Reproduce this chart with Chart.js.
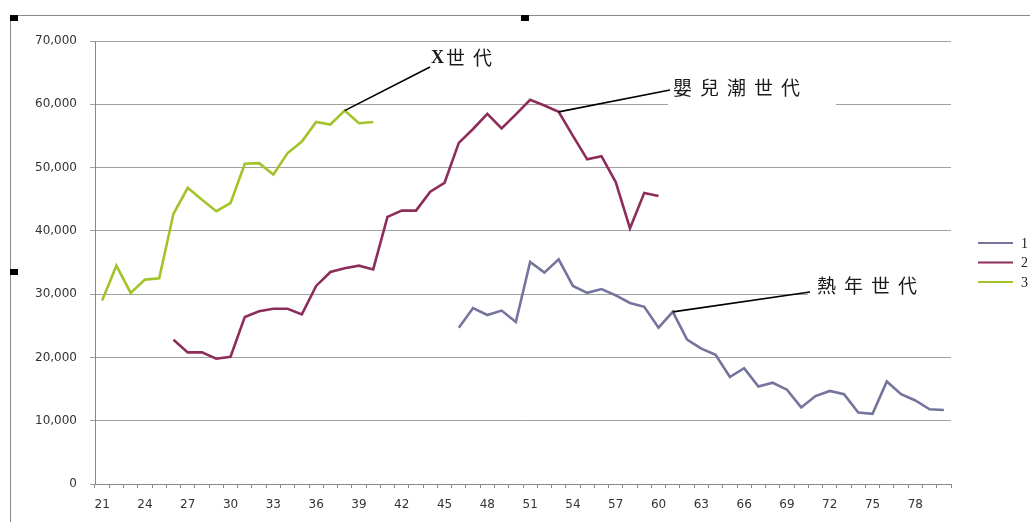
<!DOCTYPE html>
<html>
<head>
<meta charset="utf-8">
<script src="https://cdn.jsdelivr.net/npm/chart.js@4.4.1/dist/chart.umd.min.js"></script>
<style>
  html, body { margin: 0; padding: 0; background: #ffffff; }
  #wrap { width: 1030px; height: 522px; position: relative; }
  canvas { display: block; }
</style>
</head>
<body>
<div id="wrap"><canvas id="chart" width="1030" height="522"></canvas></div>
<script>
// Ages on the category axis (21 .. 80)
const ages = [21, 22, 23, 24, 25, 26, 27, 28, 29, 30,
              31, 32, 33, 34, 35, 36, 37, 38, 39, 40,
              41, 42, 43, 44, 45, 46, 47, 48, 49, 50,
              51, 52, 53, 54, 55, 56, 57, 58, 59, 60,
              61, 62, 63, 64, 65, 66, 67, 68, 69, 70,
              71, 72, 73, 74, 75, 76, 77, 78, 79, 80];

// Series 1: ages 46 .. 80
const series1Start = 46;
const series1 = [24700, 27800, 26700, 27400, 25600, 35100, 33400, 35500, 31300, 30200,
                 30800, 29800, 28600, 28000, 24700, 27200, 22800, 21400, 20400, 16900,
                 18300, 15400, 16000, 14900, 12100, 13900, 14700, 14200, 11300, 11100,
                 16200, 14200, 13200, 11800, 11700];

// Series 2: ages 26 .. 60
const series2Start = 26;
const series2 = [22800, 20800, 20800, 19800, 20100, 26400, 27300, 27700, 27700, 26800,
                 31300, 33500, 34100, 34500, 33900, 42200, 43200, 43200, 46200, 47600,
                 53900, 56100, 58500, 56200, 58400, 60700, 59800, 58800, 55000, 51300,
                 51800, 47700, 40400, 46000, 45500];

// Series 3: ages 21 .. 40
const series3Start = 21;
const series3 = [29000, 34500, 30200, 32300, 32500, 42700, 46800, 44900, 43100, 44400,
                 50600, 50700, 48900, 52300, 54100, 57200, 56800, 59000, 57000, 57200];

const seriesNames = ['1', '2', '3'];
const yTicks = [0, 10000, 20000, 30000, 40000, 50000, 60000, 70000];

// Callout labels, each tied to one point of a series
const callouts = [
  { text: 'X世代',      series: 2, age: 38, textX: 431, textY: 58,  step: [0, 15, 42], lineEnd: [430, 67], box: null },
  { text: '嬰兒潮世代', series: 1, age: 53, textX: 673, textY: 88,  step: 27, lineEnd: [670, 90], box: [668, 74, 168, 32] },
  { text: '熱年世代',   series: 0, age: 61, textX: 817, textY: 286, step: 27, lineEnd: [810, 292], box: [808, 274, 146, 26] }
];

// Place each series on the full age axis
function onAxis(start, values) {
  return ages.map(a => {
    const i = a - start;
    return (i >= 0 && i < values.length) ? values[i] : null;
  });
}

const colors = ['#74749c', '#8d2d5c', '#a2c42a'];

const calloutPlugin = {
  id: 'callouts',
  afterDatasetsDraw(chart) {
    const ctx = chart.ctx;
    const xs = chart.scales.x, ys = chart.scales.y;
    ctx.save();
    callouts.forEach(c => {
      if (c.box) {
        ctx.fillStyle = '#ffffff';
        ctx.fillRect(c.box[0], c.box[1], c.box[2], c.box[3]);
      }
      const data = chart.data.datasets[c.series].data;
      const idx = ages.indexOf(c.age);
      const px = xs.getPixelForValue(idx);
      const py = ys.getPixelForValue(data[idx]);
      ctx.strokeStyle = '#000000';
      ctx.lineWidth = 1.6;
      ctx.beginPath();
      ctx.moveTo(px, py);
      ctx.lineTo(c.lineEnd[0], c.lineEnd[1]);
      ctx.stroke();

      ctx.fillStyle = '#1a1a1a';
      ctx.textBaseline = 'middle';
      ctx.textAlign = 'left';
      const chars = Array.from(c.text);
      chars.forEach((ch, k) => {
        const off = Array.isArray(c.step) ? c.step[k] : k * c.step;
        if (/[A-Za-z]/.test(ch)) {
          ctx.font = 'bold 18px "Liberation Serif", serif';
        } else {
          ctx.font = '19px "Noto Sans CJK TC", sans-serif';
        }
        ctx.fillText(ch, c.textX + off, c.textY);
      });
    });
    ctx.restore();
  },
  afterDraw(chart) {
    const ctx = chart.ctx;
    ctx.save();
    // legend on the right
    chart.data.datasets.forEach((ds, i) => {
      const y = 243 + i * 19.5;
      ctx.strokeStyle = ds.borderColor;
      ctx.lineWidth = 2;
      ctx.beginPath();
      ctx.moveTo(978, y);
      ctx.lineTo(1013, y);
      ctx.stroke();
      ctx.fillStyle = '#222222';
      ctx.font = '14px "Liberation Serif", serif';
      ctx.textBaseline = 'middle';
      ctx.textAlign = 'left';
      ctx.fillText(ds.label, 1021, y + 1);
    });
    // outer frame
    ctx.strokeStyle = '#8a8a8a';
    ctx.lineWidth = 1;
    ctx.beginPath();
    ctx.moveTo(10.5, 522);
    ctx.lineTo(10.5, 15.5);
    ctx.lineTo(1030, 15.5);
    ctx.stroke();
    // selection handles
    ctx.fillStyle = '#000000';
    ctx.fillRect(10, 15, 8, 6);
    ctx.fillRect(521, 15, 8, 6);
    ctx.fillRect(10, 269, 8, 6);
    ctx.restore();
  }
};

new Chart(document.getElementById('chart'), {
  type: 'line',
  data: {
    labels: ages,
    datasets: [
      { label: seriesNames[0], data: onAxis(series1Start, series1), borderColor: colors[0] },
      { label: seriesNames[1], data: onAxis(series2Start, series2), borderColor: colors[1] },
      { label: seriesNames[2], data: onAxis(series3Start, series3), borderColor: colors[2] }
    ]
  },
  options: {
    responsive: false,
    animation: false,
    devicePixelRatio: 1,
    layout: { padding: { top: 41, right: 79, bottom: 0, left: 0 } },
    elements: {
      line: { borderWidth: 2.6, tension: 0, fill: false },
      point: { radius: 0, hoverRadius: 0 }
    },
    plugins: {
      legend: { display: false },
      tooltip: { enabled: false }
    },
    scales: {
      x: {
        type: 'category',
        offset: true,
        afterFit(scale) { scale.height = 38; },
        grid: { display: true, drawOnChartArea: false, drawTicks: true, tickLength: 4, offset: true, color: '#888888' },
        border: { display: true, color: '#888888', width: 1 },
        ticks: {
          autoSkip: false,
          maxRotation: 0,
          minRotation: 0,
          padding: 10,
          color: '#333333',
          font: { family: '"DejaVu Sans", Verdana, sans-serif', size: 12 },
          callback(value, index) { return index % 3 === 0 ? String(ages[index]) : ''; }
        }
      },
      y: {
        min: yTicks[0],
        max: yTicks[yTicks.length - 1],
        afterFit(scale) { scale.width = 95; },
        afterBuildTicks(scale) { scale.ticks = yTicks.map(v => ({ value: v })); },
        grid: { color: '#a0a0a0', lineWidth: 1, drawTicks: true, tickLength: 5 },
        border: { display: true, color: '#888888', width: 1 },
        ticks: {
          padding: 13,
          color: '#333333',
          font: { family: '"DejaVu Sans", Verdana, sans-serif', size: 12 },
          callback(value) { return value.toLocaleString('en-US'); }
        }
      }
    }
  },
  plugins: [calloutPlugin]
});
</script>
</body>
</html>
